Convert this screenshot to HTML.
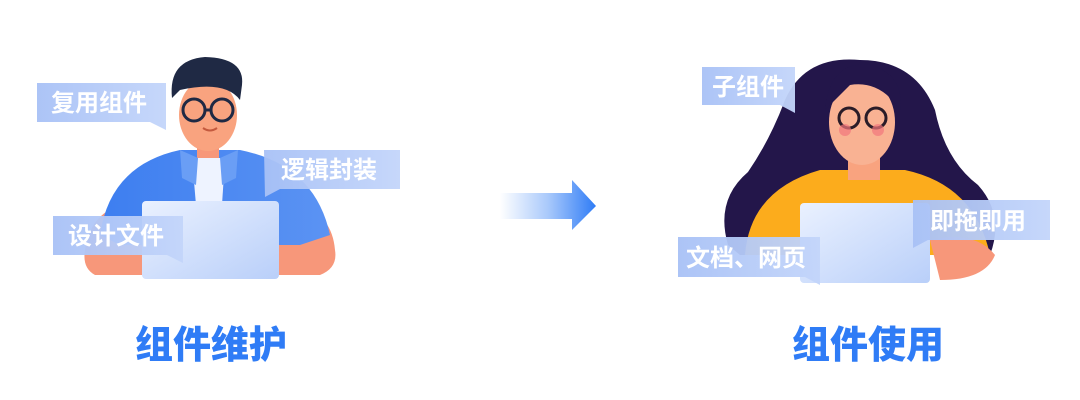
<!DOCTYPE html>
<html><head><meta charset="utf-8"><style>
html,body{margin:0;padding:0;background:#fff;}
svg{display:block}
.b{font-family:"Liberation Sans","Noto Sans CJK SC",sans-serif;font-weight:700;font-size:24px;fill:#fff}
.t{font-family:"Liberation Sans","Noto Sans CJK SC",sans-serif;font-weight:900;font-size:38px;fill:#2f7cf6}
</style></head><body>
<svg width="1080" height="400" viewBox="0 0 1080 400">
<defs>
<linearGradient id="bub" x1="0" y1="0" x2="1" y2="0"><stop offset="0" stop-color="#a8c1f6"/><stop offset="1" stop-color="#c3d5fa"/></linearGradient>
<linearGradient id="arr" x1="0" y1="0" x2="1" y2="0"><stop offset="0" stop-color="#fff"/><stop offset="0.5" stop-color="#a9c9fb"/><stop offset="1" stop-color="#2f7cf6"/></linearGradient>
<linearGradient id="lap" x1="0" y1="0" x2="1" y2="1"><stop offset="0" stop-color="#eaf1ff"/><stop offset="1" stop-color="#b9cff9"/></linearGradient>
<linearGradient id="shirt" x1="0" y1="0" x2="1" y2="0"><stop offset="0" stop-color="#3d7ef0"/><stop offset="1" stop-color="#5b93f3"/></linearGradient>
</defs>
<!-- LEFT person -->
<path d="M85 250 Q90 215 120 205 L150 210 L150 275 L95 275 Q82 268 85 250Z" fill="#f7977a"/>
<path d="M335 250 Q332 215 300 205 L270 210 L275 275 L320 275 Q338 268 335 250Z" fill="#f7977a"/>
<path d="M100 235 Q110 165 180 150 L240 150 Q315 165 330 235 L300 245 L120 245Z" fill="url(#shirt)"/>
<rect x="197" y="140" width="22" height="25" fill="#f7977a"/>
<path d="M192 158 L225 158 L222 205 L196 205Z" fill="#eef3ff"/>
<path d="M180 150 L198 158 L196 185 L182 178Z M238 150 L220 158 L222 185 L236 178Z" fill="#6a9ef5"/>
<ellipse cx="208" cy="115" rx="29" ry="36" fill="#f9a37f"/>
<path d="M172 98 Q168 60 205 57 Q245 58 242 85 L240 100 Q225 80 180 90 Z" fill="#1f2944"/>
<circle cx="194" cy="110" r="11" fill="none" stroke="#1f2944" stroke-width="3"/>
<circle cx="222" cy="110" r="11" fill="none" stroke="#1f2944" stroke-width="3"/>
<path d="M205 110 L211 110" stroke="#1f2944" stroke-width="3"/>
<path d="M203 128 Q210 133 217 128" stroke="#c45a3e" stroke-width="2" fill="none"/>
<rect x="142" y="201" width="137" height="78" rx="4" fill="url(#lap)"/>
<!-- bubbles left -->
<path d="M37 83 H166 V130 L150 122 H37Z" fill="url(#bub)" opacity=".95"/>
<text class="b" x="51" y="111">复用组件</text>
<path d="M264 150 H400 V189 H280 L265 197Z" fill="url(#bub)" opacity=".95"/>
<text class="b" x="281" y="178">逻辑封装</text>
<path d="M53 216 H183 V263 L167 255 H53Z" fill="url(#bub)" opacity=".95"/>
<text class="b" x="68" y="244">设计文件</text>
<!-- arrow -->
<path d="M500 193 H572 V180 L596 206 L572 230 V219 H500Z" fill="url(#arr)"/>
<!-- RIGHT person -->
<path d="M728 245 Q715 200 748 172 Q770 140 785 100 Q805 55 860 60 Q915 60 935 110 Q945 160 978 185 Q1005 215 990 255 L740 255Z" fill="#23164a"/>
<path d="M745 255 Q750 190 820 170 L905 170 Q975 185 990 255Z" fill="#fcac1c"/>
<path d="M930 240 Q975 230 995 255 Q985 280 940 280Z" fill="#f7977a"/>
<rect x="848" y="150" width="32" height="30" fill="#f9a37f"/>
<ellipse cx="862" cy="122" rx="33" ry="43" fill="#f9b293"/>
<path d="M825 110 Q830 60 870 65 Q905 75 900 110 Q880 80 850 85Z" fill="#23164a"/>
<circle cx="849" cy="118" r="10" fill="none" stroke="#2a1c28" stroke-width="3"/>
<circle cx="876" cy="118" r="10" fill="none" stroke="#2a1c28" stroke-width="3"/>
<circle cx="845" cy="130" r="6" fill="#f2767c" opacity=".7"/><circle cx="878" cy="130" r="6" fill="#f2767c" opacity=".7"/>
<rect x="800" y="203" width="130" height="80" rx="4" fill="url(#lap)"/>
<!-- bubbles right -->
<path d="M702 67 H795 V113 L780 105 H702Z" fill="url(#bub)" opacity=".95"/>
<text class="b" x="712" y="95">子组件</text>
<path d="M913 200 H1050 V240 H928 L913 248Z" fill="url(#bub)" opacity=".95"/>
<text class="b" x="930" y="229">即拖即用</text>
<path d="M678 237 H820 V285 L805 277 H678Z" fill="url(#bub)" opacity=".95"/>
<text class="b" x="686" y="266">文档、网页</text>
<!-- titles -->
<text class="t" x="211" y="358" text-anchor="middle">组件维护</text>
<text class="t" x="868" y="358" text-anchor="middle">组件使用</text>
</svg>
</body></html>
